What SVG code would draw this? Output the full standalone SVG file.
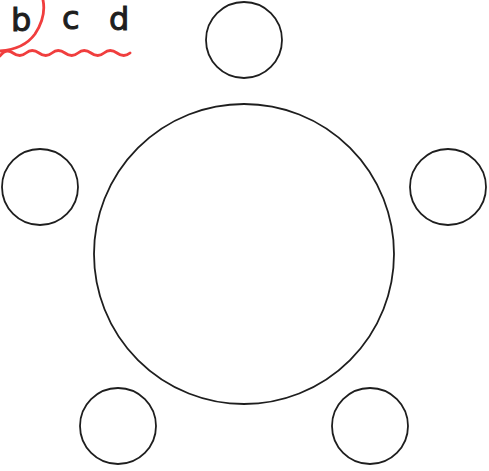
<svg xmlns="http://www.w3.org/2000/svg" width="489" height="471" viewBox="0 0 489 471">
<style>
.n{fill:none;stroke:#1e1e1e;stroke-width:1.8}
.hw{font-family:"DejaVu Sans",sans-serif;font-size:32px;fill:#1e1e1e;stroke:#1e1e1e;stroke-width:1}
.red{fill:none;stroke:#f03e3e;stroke-width:2.8;stroke-linecap:round}
</style>
<rect width="489" height="471" fill="#fff"/>
<g id="labels">
<text class="hw" x="11" y="31">b</text>
<text class="hw" x="62" y="29">c</text>
<text class="hw" x="109" y="30">d</text>
</g>
<g id="marks">
<path class="red" d="M43,0 C45,10 43,22 35,34 C27,45 14,50 0,51"/>
<path class="red" d="M0,56 Q6,48 13,53 T26,53 T39,53 T52,53 T65,53 T78,53 T91,53 T104,53 T117,53 T130,53"/>
</g>
<g id="center"><circle class="n" cx="244" cy="254" r="150"/></g>
<g id="top"><circle class="n" cx="244" cy="40" r="38"/></g>
<g id="left"><circle class="n" cx="40" cy="187" r="38"/></g>
<g id="right"><circle class="n" cx="448" cy="187" r="38"/></g>
<g id="bottom-left"><circle class="n" cx="118" cy="426" r="38"/></g>
<g id="bottom-right"><circle class="n" cx="370" cy="426" r="38"/></g>
<g id="connectors"></g>
</svg>
